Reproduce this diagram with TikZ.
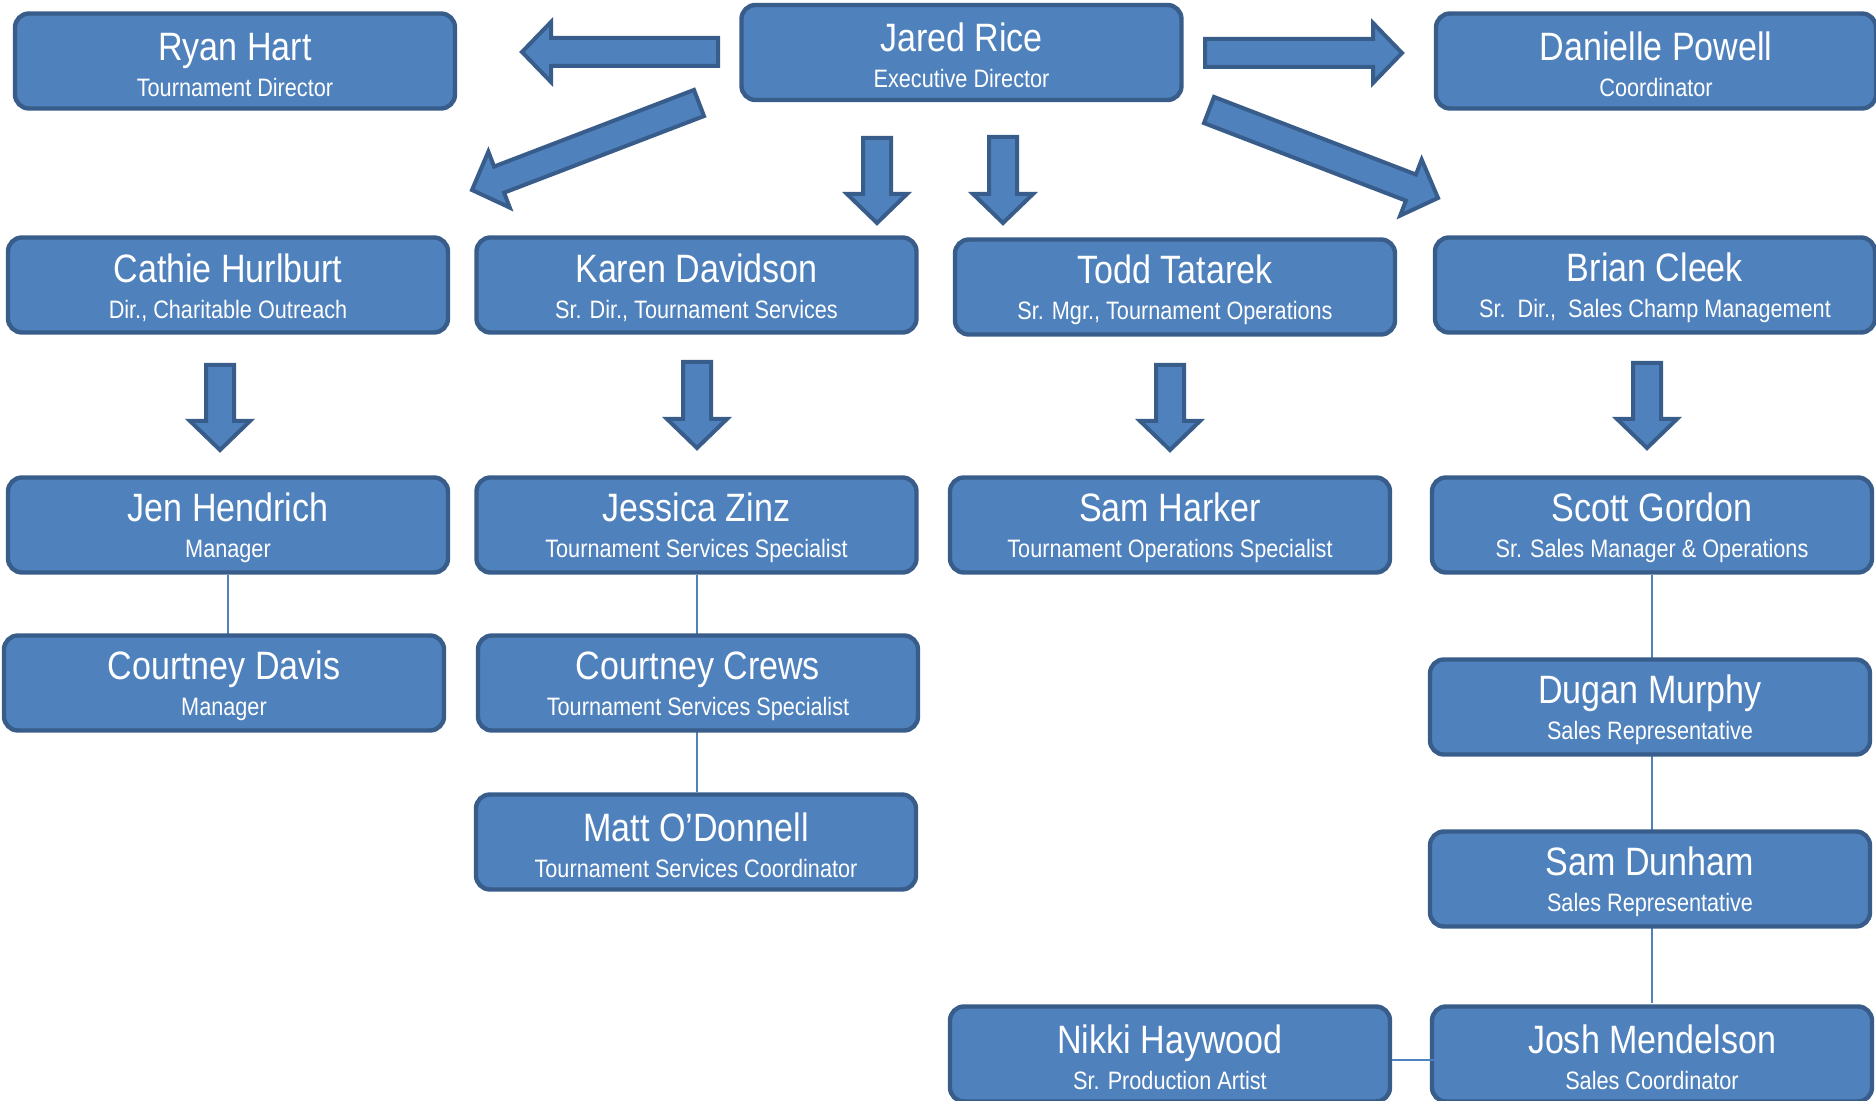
\documentclass[tikz,border=0pt]{standalone}
\usepackage{fontspec}
\setmainfont{Liberation Sans}[FakeStretch=0.86]
\usetikzlibrary{calc}
\definecolor{boxfill}{HTML}{4F81BD}
\definecolor{boxline}{HTML}{385D8A}
\newcommand\pname[1]{{\fontsize{19.8}{18}\selectfont\rule{0pt}{17.5pt}#1}}
\newcommand\prole[1]{{\fontsize{12.6}{18}\selectfont #1}}
\newcommand\blockarrow[2]{%
  \path ($(#2)!14.5pt!(#1)$) coordinate (bH);
  \draw[barr] ($(#1)!7pt!90:(#2)$) -- ($(bH)!7pt!90:(#2)$) -- ($(bH)!15pt!90:(#2)$)
    -- (#2) -- ($(bH)!15pt!-90:(#2)$) -- ($(bH)!7pt!-90:(#2)$) -- ($(#1)!7pt!-90:(#2)$) -- cycle;}
\tikzset{
  person/.style={draw=boxline, fill=boxfill, line width=2.2pt, rounded corners=7pt,
    minimum width=220pt, minimum height=47.5pt, inner sep=0pt, text=white,
    align=center, font=\fontsize{12.6}{18}\selectfont},
  barr/.style={draw=boxline, fill=boxfill, line width=2pt, line join=miter},
  conn/.style={draw=boxfill, line width=1pt}
}
\begin{document}
\begin{tikzpicture}[x=0.5pt,y=-0.5pt]
\useasboundingbox (0,0) rectangle (1876,1101);
% boxes
\node[person] (rice) at (961.5,52.5) {\pname{Jared Rice}\\\prole{Executive Director}};
\node[person] (hart) at (235,61) {\pname{Ryan Hart}\\\prole{Tournament Director}};
\node[person] (powell) at (1656,61) {\pname{Danielle Powell}\\\prole{Coordinator}};
\node[person] (hurlburt) at (228,285) {\pname{Cathie Hurlburt}\\\prole{Dir., Charitable Outreach}};
\node[person] (davidson) at (696.5,285) {\pname{Karen Davidson}\\\prole{Sr. Dir., Tournament Services}};
\node[person] (tatarek) at (1175,287) {\pname{Todd Tatarek}\\\prole{Sr. Mgr., Tournament Operations}};
\node[person] (cleek) at (1655,285) {\pname{Brian Cleek}\\\prole{Sr.\ \ Dir.,\ \ Sales Champ Management}};
\node[person] (hendrich) at (228,525) {\pname{Jen Hendrich}\\\prole{Manager}};
\node[person] (zinz) at (696.5,525) {\pname{Jessica Zinz}\\\prole{Tournament Services Specialist}};
\node[person] (harker) at (1170,525) {\pname{Sam Harker}\\\prole{Tournament Operations Specialist}};
\node[person] (gordon) at (1652,525) {\pname{Scott Gordon}\\\prole{Sr. Sales Manager \& Operations}};
% connectors behind lower boxes
\draw[conn] (hendrich.south) -- (hendrich.south |- 634,634);
\draw[conn] (zinz.south) -- (zinz.south |- 792,792);
\draw[conn] (gordon.south) -- (gordon.south |- 1003,1003);
\node[person] (davis) at (224,683) {\pname{Courtney Davis}\\\prole{Manager}};
\node[person] (crews) at (698,683) {\pname{Courtney Crews}\\\prole{Tournament Services Specialist}};
\node[person] (odonnell) at (696,842) {\pname{Matt O'Donnell}\\\prole{Tournament Services Coordinator}};
\node[person] (murphy) at (1650,707) {\pname{Dugan Murphy}\\\prole{Sales Representative}};
\node[person] (dunham) at (1650,879) {\pname{Sam Dunham}\\\prole{Sales Representative}};
\node[person] (haywood) at (1170,1054) {\pname{Nikki Haywood}\\\prole{Sr. Production Artist}};
\node[person] (mendelson) at (1652,1054) {\pname{Josh Mendelson}\\\prole{Sales Coordinator}};
\coordinate (jmx) at (1527,1060);
\draw[conn] (haywood.east |- jmx) -- (jmx);
% block arrows
\coordinate (a1t) at (718,52);   \coordinate (a1h) at (522,52);
\coordinate (a2t) at (1205,53);  \coordinate (a2h) at (1402,53);
\coordinate (a3t) at (699,103);  \coordinate (a3h) at (472,190);
\coordinate (a4t) at (1209,110); \coordinate (a4h) at (1438,198);
\coordinate (a5t) at (877,138);  \coordinate (a5h) at (877,223);
\coordinate (a6t) at (1003,137); \coordinate (a6h) at (1003,223);
\coordinate (a7t) at (220,365);  \coordinate (a7h) at (220,450);
\coordinate (a8t) at (697,362);  \coordinate (a8h) at (697,448);
\coordinate (a9t) at (1170,365); \coordinate (a9h) at (1170,450);
\coordinate (a10t) at (1647,363); \coordinate (a10h) at (1647,448);
\blockarrow{a1t}{a1h}
\blockarrow{a2t}{a2h}
\blockarrow{a3t}{a3h}
\blockarrow{a4t}{a4h}
\blockarrow{a5t}{a5h}
\blockarrow{a6t}{a6h}
\blockarrow{a7t}{a7h}
\blockarrow{a8t}{a8h}
\blockarrow{a9t}{a9h}
\blockarrow{a10t}{a10h}
\end{tikzpicture}
\end{document}
